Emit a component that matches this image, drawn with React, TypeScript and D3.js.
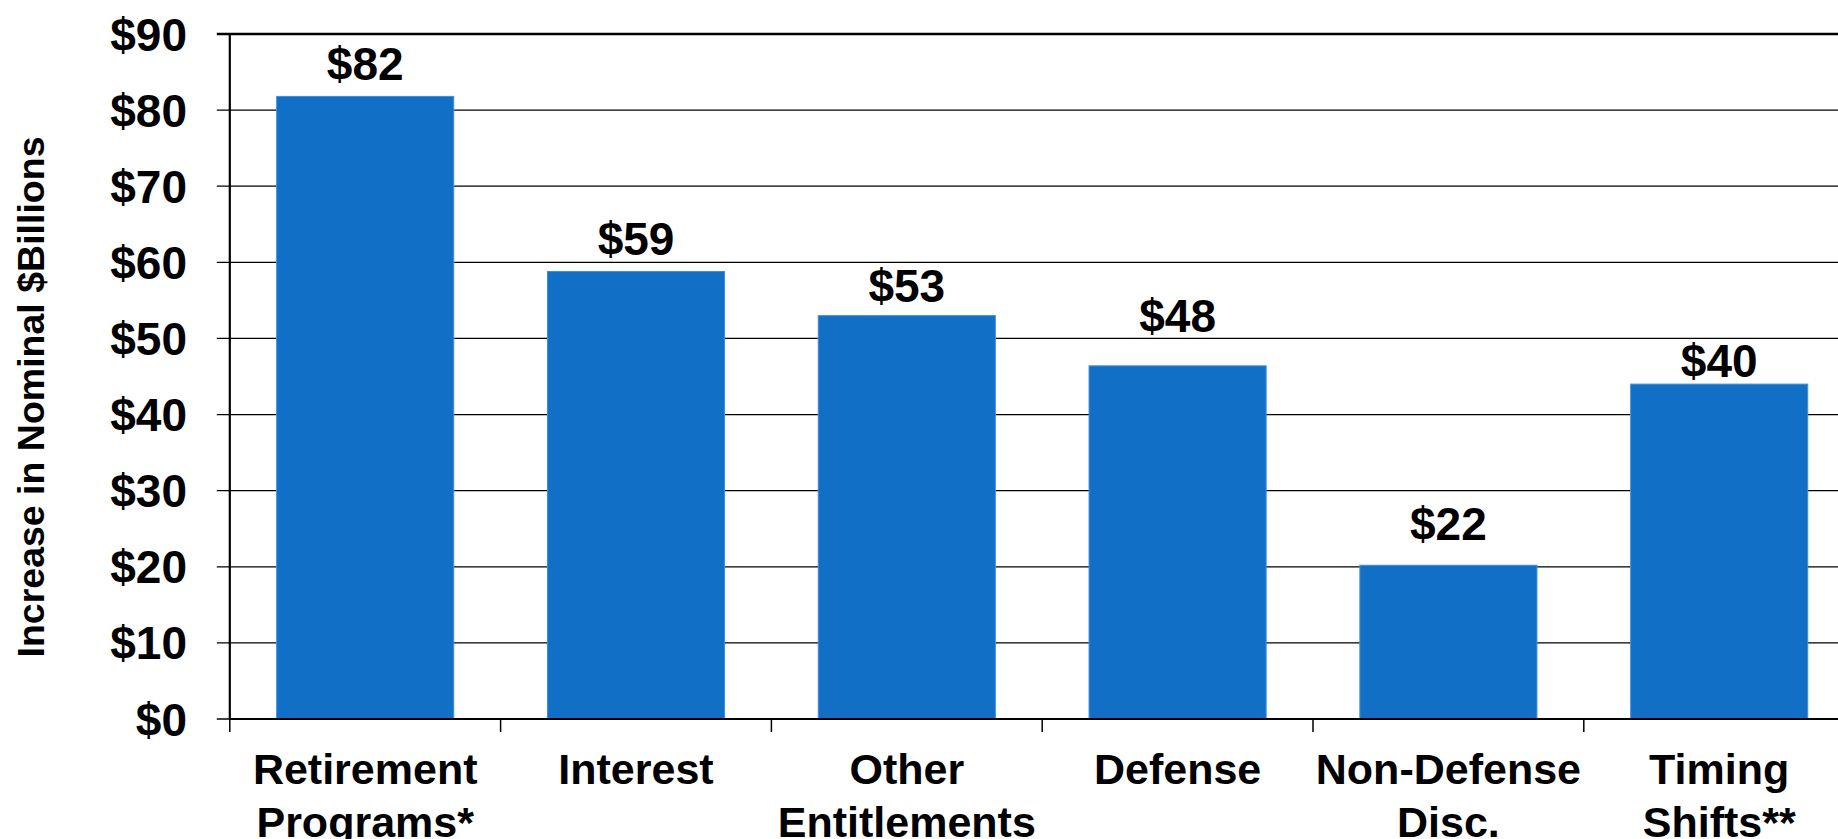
import React from "react";
import * as d3 from "d3";

const categories: string[][] = [
  ["Retirement", "Programs*"],
  ["Interest"],
  ["Other", "Entitlements"],
  ["Defense"],
  ["Non-Defense", "Disc."],
  ["Timing", "Shifts**"],
];
const values: number[] = [81.8, 58.8, 53.0, 46.4, 20.2, 44.0];
const valueLabels: string[] = ["$82", "$59", "$53", "$48", "$22", "$40"];
const labelAnchors: number[] = [84.0, 61.0, 54.8, 50.9, 23.5, 44.9];
const yTicks: number[] = [0, 10, 20, 30, 40, 50, 60, 70, 80, 90];
const yTitle = "Increase in Nominal $Billions";

const W = 1838;
const H = 839;
const FONT = "'Liberation Sans', Arial, Helvetica, sans-serif";

export default function App() {
  const x0 = 229.8;
  const x1 = 1854.6;
  const x = d3
    .scaleBand<number>()
    .domain(d3.range(categories.length))
    .range([x0, x1])
    .paddingInner(0.346)
    .paddingOuter(0.173);
  const y = d3.scaleLinear().domain([0, 90]).range([719, 34]);
  const step = x.step();
  const fmt = (v: number) => `$${v}`;

  return (
    <svg
      width={W}
      height={H}
      style={{ position: "absolute", left: 0, top: 0, background: "#fff" }}
      fontFamily={FONT}
      fontWeight="bold"
    >
      {/* gridlines */}
      {yTicks.map((t) => (
        <line
          key={"g" + t}
          x1={x0 - 13}
          x2={W}
          y1={y(t)}
          y2={y(t)}
          stroke="#000"
          strokeWidth={t === 90 ? 2.6 : 1.3}
        />
      ))}
      {/* bars */}
      {values.map((v, i) => (
        <rect
          key={"b" + i}
          x={x(i)}
          y={y(v)}
          width={x.bandwidth()}
          height={y(0) - y(v)}
          fill="#1170C6"
          stroke="#3F8FDD"
          strokeWidth={1}
        />
      ))}
      {/* x axis line */}
      <line x1={x0} x2={W} y1={y(0)} y2={y(0)} stroke="#000" strokeWidth={2.2} />
      {/* x ticks */}
      {d3.range(categories.length + 1).map((i) => (
        <line
          key={"xt" + i}
          x1={x0 + i * step}
          x2={x0 + i * step}
          y1={y(0)}
          y2={y(0) + 13}
          stroke="#000"
          strokeWidth={1.5}
        />
      ))}
      {/* y axis line */}
      <line x1={x0} x2={x0} y1={y(90)} y2={y(0)} stroke="#000" strokeWidth={2.2} />
      {/* y tick labels */}
      {yTicks.map((t) => (
        <text
          key={"yl" + t}
          x={187}
          y={y(t) + 16.5}
          textAnchor="end"
          fontSize={46}
          fill="#000"
        >
          {fmt(t)}
        </text>
      ))}
      {/* value labels */}
      {valueLabels.map((l, i) => (
        <text
          key={"vl" + i}
          x={(x(i) as number) + x.bandwidth() / 2}
          y={y(labelAnchors[i])}
          textAnchor="middle"
          fontSize={46}
          fill="#000"
        >
          {l}
        </text>
      ))}
      {/* category labels */}
      {categories.map((lines, i) => (
        <text
          key={"cl" + i}
          x={(x(i) as number) + x.bandwidth() / 2}
          y={784}
          textAnchor="middle"
          fontSize={43}
          fill="#000"
        >
          {lines.map((ln, j) => (
            <tspan key={j} x={(x(i) as number) + x.bandwidth() / 2} dy={j === 0 ? 0 : 53}>
              {ln}
            </tspan>
          ))}
        </text>
      ))}
      {/* y title */}
      <text
        transform={`translate(44,397) rotate(-90)`}
        textAnchor="middle"
        fontSize={37.5}
        fill="#000"
      >
        {yTitle}
      </text>
    </svg>
  );
}
